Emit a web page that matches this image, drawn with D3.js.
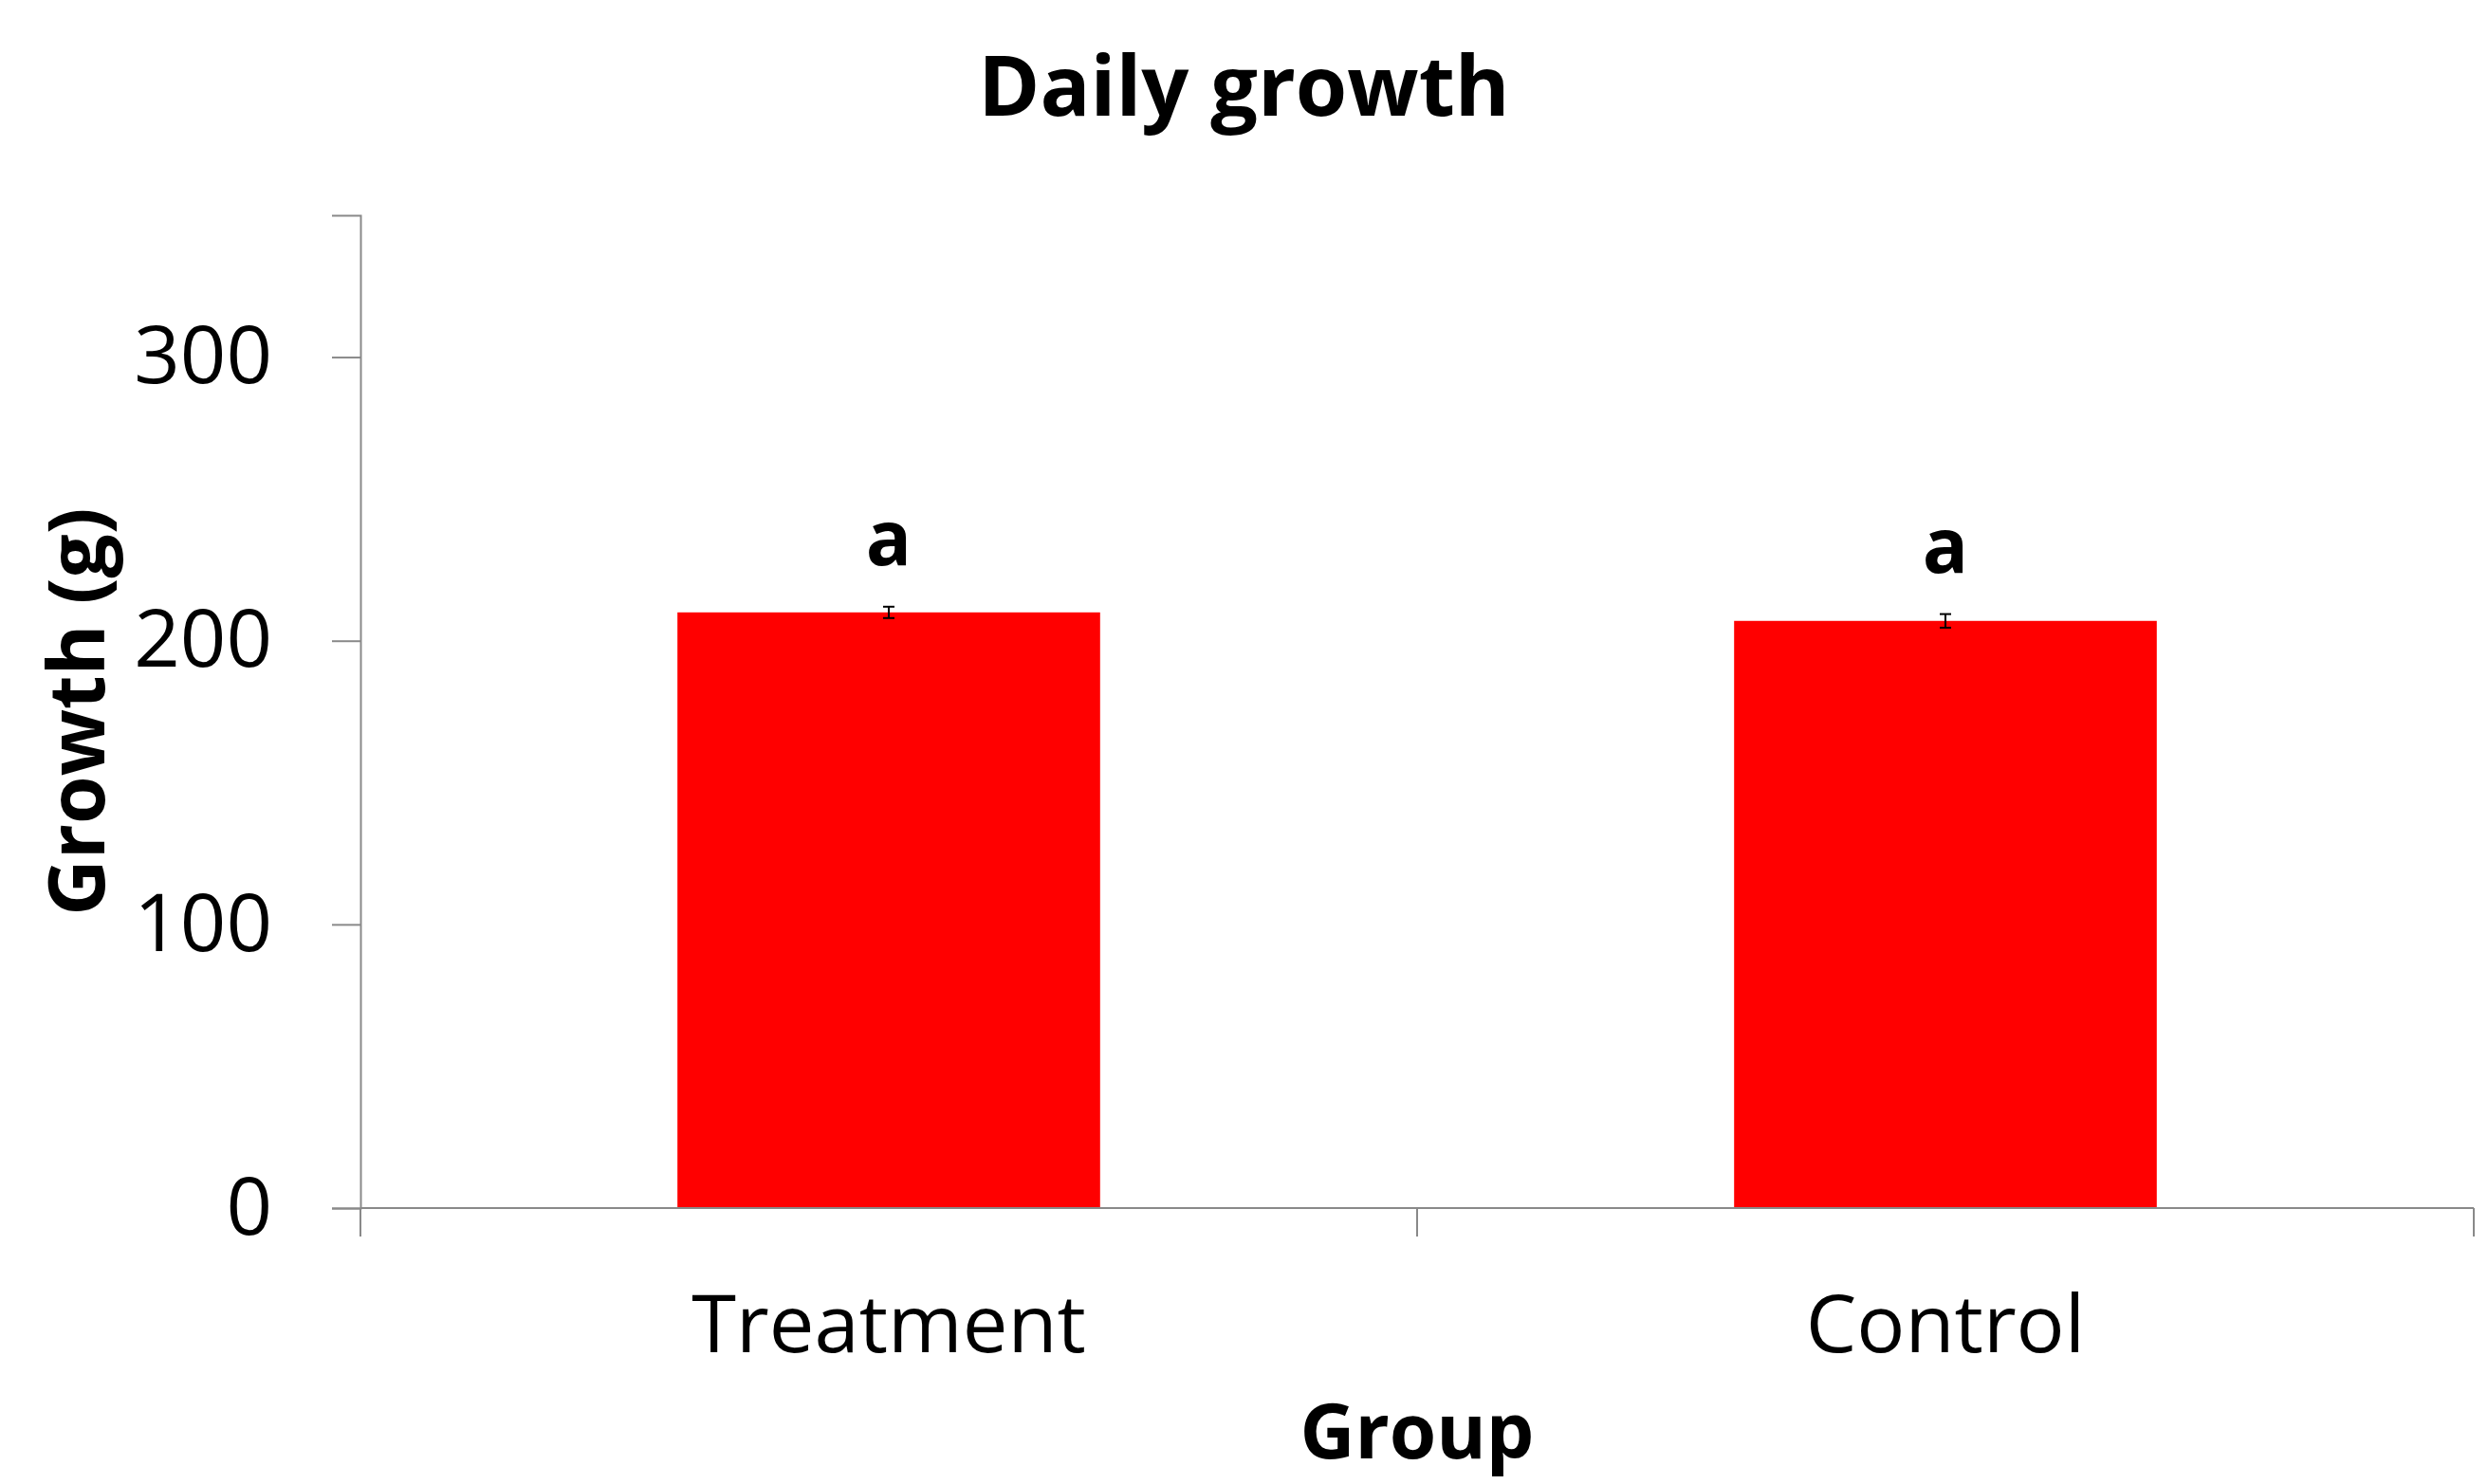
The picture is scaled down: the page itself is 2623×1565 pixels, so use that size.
<!DOCTYPE html>
<html>
<head>
<meta charset="utf-8">
<script src="https://cdn.jsdelivr.net/npm/d3@7"></script>
<style>
    body { margin: 0; background: #fff; }
    text { font-family: "Open Sans", "Noto Sans", sans-serif; fill: #000; }
</style>
</head>
<body>
<div id="chart"></div>
<script>
// chart data
var groups = ["Treatment", "Control"]
var growth = [210, 207]
var errors = [2.0, 2.4]
var letters = ["a", "a"]
var yTicks = [0, 100, 200, 300]

var data = groups.map(function (g, i) {
    return { group: g, value: growth[i], err: errors[i], letter: letters[i] }
})

var W = 2623, H = 1565
var margin = { top: 227, right: 15, bottom: 291, left: 380 },
    width = W - margin.left - margin.right,
    height = H - margin.top - margin.bottom

var svg = d3.select("#chart")
    .append("svg")
    .attr("width", W)
    .attr("height", H)

var g = svg.append("g")
    .attr("transform", "translate(" + margin.left + "," + margin.top + ")")

var x = d3.scaleBand()
    .domain(groups)
    .range([0, width])
    .padding(0)

var y = d3.scaleLinear()
    .domain([0, 350])
    .range([height, 0])

var axisColor = "#898989"

// y axis
var yAxis = g.append("g")
    .call(d3.axisLeft(y).tickValues(yTicks).tickSize(30).tickPadding(63))
yAxis.select(".domain").attr("stroke", axisColor).attr("stroke-width", 2)
yAxis.selectAll(".tick line").attr("stroke", axisColor).attr("stroke-width", 2)
yAxis.selectAll(".tick text")
    .style("font-size", "85px")
    .style("font-family", "'Open Sans', sans-serif")
    .attr("fill", "#000")

// bars (gap width 150%)
var barW = x.bandwidth() * 0.4
g.selectAll(".bar")
    .data(data)
    .enter()
    .append("rect")
    .attr("class", "bar")
    .attr("x", function (d) { return x(d.group) + (x.bandwidth() - barW) / 2 })
    .attr("y", function (d) { return y(d.value) })
    .attr("width", barW)
    .attr("height", function (d) { return y(0) - y(d.value) })
    .attr("fill", "#ff0000")

// error bars
var eb = g.selectAll(".err")
    .data(data)
    .enter()
    .append("g")
    .attr("class", "err")
    .attr("stroke", "#000")
    .attr("stroke-width", 2)
eb.append("line")
    .attr("x1", function (d) { return x(d.group) + x.bandwidth() / 2 })
    .attr("x2", function (d) { return x(d.group) + x.bandwidth() / 2 })
    .attr("y1", function (d) { return y(d.value + d.err) })
    .attr("y2", function (d) { return y(d.value - d.err) })
eb.selectAll(".cap")
    .data(function (d) { return [d.value + d.err, d.value - d.err].map(function (v) { return { group: d.group, v: v } }) })
    .enter()
    .append("line")
    .attr("x1", function (d) { return x(d.group) + x.bandwidth() / 2 - 6 })
    .attr("x2", function (d) { return x(d.group) + x.bandwidth() / 2 + 6 })
    .attr("y1", function (d) { return y(d.v) })
    .attr("y2", function (d) { return y(d.v) })

// significance letters
g.selectAll(".letter")
    .data(data)
    .enter()
    .append("text")
    .attr("class", "letter")
    .attr("x", function (d) { return x(d.group) + x.bandwidth() / 2 })
    .attr("y", function (d) { return y(d.value + d.err) - 44 })
    .attr("text-anchor", "middle")
    .style("font-size", "80px")
    .style("font-weight", "bold")
    .text(function (d) { return d.letter })

// x axis: category labels, ticks at band edges
var xAxis = g.append("g")
    .attr("transform", "translate(0," + height + ")")
    .call(d3.axisBottom(x).tickSize(0).tickPadding(92))
xAxis.select(".domain").remove()
xAxis.selectAll(".tick text")
    .style("font-size", "85px")
    .style("font-family", "'Open Sans', sans-serif")
    .attr("fill", "#000")

var edges = groups.map(function (d) { return x(d) }).concat([x.range()[1]])
var xLine = g.append("g").attr("transform", "translate(0," + height + ")")
xLine.append("line")
    .attr("x1", x.range()[0])
    .attr("x2", x.range()[1])
    .attr("stroke", axisColor)
    .attr("stroke-width", 2)
xLine.selectAll(".edge")
    .data(edges)
    .enter()
    .append("line")
    .attr("x1", function (d) { return d })
    .attr("x2", function (d) { return d })
    .attr("y1", 0)
    .attr("y2", 30)
    .attr("stroke", axisColor)
    .attr("stroke-width", 2)

// title
svg.append("text")
    .attr("x", W / 2)
    .attr("y", 122)
    .attr("text-anchor", "middle")
    .style("font-size", "88px")
    .style("font-weight", "bold")
    .text("Daily growth")

// axis titles
svg.append("text")
    .attr("x", margin.left + width / 2)
    .attr("y", 1538)
    .attr("text-anchor", "middle")
    .style("font-size", "80px")
    .style("font-weight", "bold")
    .text("Group")

svg.append("text")
    .attr("transform", "translate(110," + (margin.top + height / 2) + ") rotate(-90)")
    .attr("text-anchor", "middle")
    .style("font-size", "82px")
    .style("font-weight", "bold")
    .text("Growth (g)")
</script>
</body>
</html>
